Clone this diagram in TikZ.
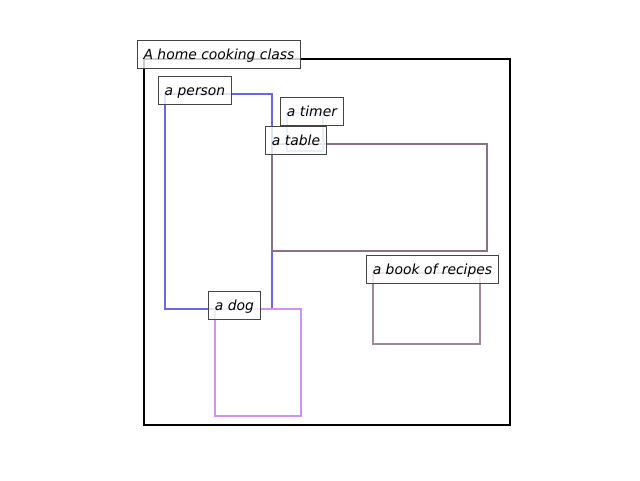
\documentclass[tikz,border=0pt]{standalone}
\usepackage{fontspec}
\setmainfont{DejaVu Sans}
\definecolor{cperson}{HTML}{6666EE}
\definecolor{ctable}{HTML}{8A7284}
\definecolor{cbook}{HTML}{A0889A}
\definecolor{cdog}{HTML}{D093F2}
\definecolor{ctimer}{HTML}{8CA6E8}
\definecolor{cedge}{HTML}{444444}
\tikzset{
  region/.style={line width=2.2pt},
  lbl/.style={draw=cedge, line width=0.9pt, fill=white, fill opacity=0.8, text opacity=1,
    font=\fontsize{13.9}{16}\selectfont\itshape, inner xsep=6.5pt, inner ysep=0pt,
    text height=12pt, text depth=2pt,
    minimum height=28pt, anchor=center}
}
\begin{document}
\begin{tikzpicture}[x=1pt,y=-1pt]
\useasboundingbox (0,0) rectangle (640,480);
\draw[region, black] (144,59) rectangle (510,425);
\draw[region, cperson] (165,94) rectangle (272,309);
\draw[region, ctable] (272,144) rectangle (487,251);
\draw[region, cbook] (373,273) rectangle (480,344);
\draw[region, cdog] (215,309) rectangle (301,416);
\draw[region, ctimer] (287,113) rectangle (323,151);
\node[lbl] (class) at (219,54) {A home cooking class};
\node[lbl] (person) at (195,90) {a person};
\node[lbl] (timer) at (312,111) {a timer};
\node[lbl] (table) at (296,140) {a table};
\node[lbl] (book) at (432.5,269) {a book of recipes};
\node[lbl] (dog) at (234.5,305) {a dog};
\end{tikzpicture}
\end{document}
